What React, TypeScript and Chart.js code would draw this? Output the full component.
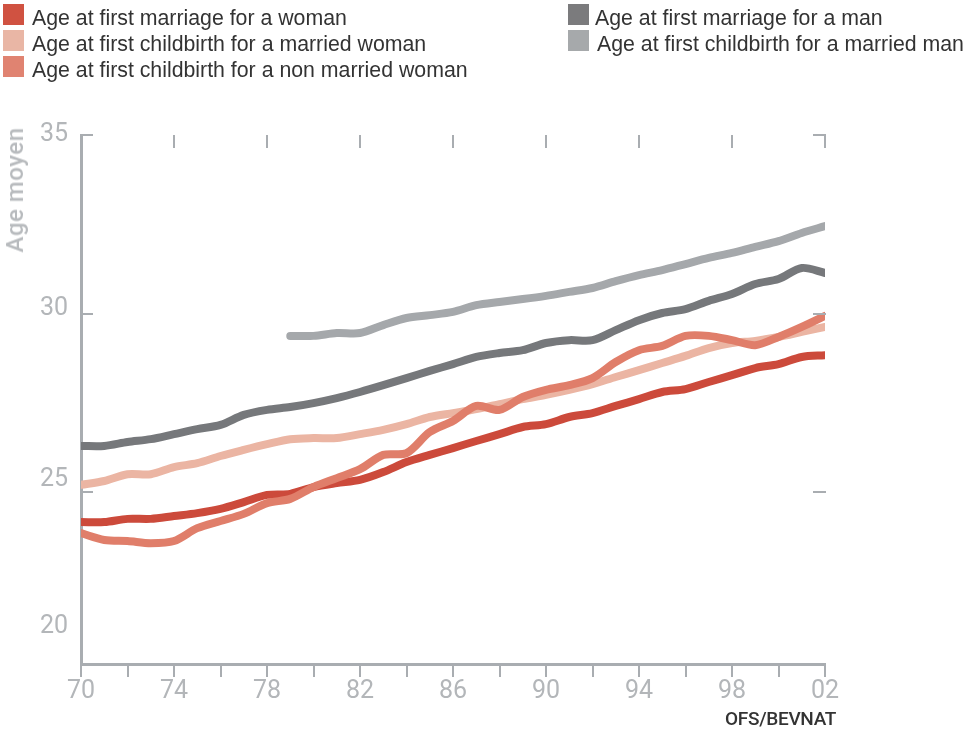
import React, { useEffect, useRef } from 'react';
import { Chart, registerables } from 'chart.js';

Chart.register(...registerables);

// ---- data ----
const years = [
  1970, 1971, 1972, 1973, 1974, 1975, 1976, 1977, 1978, 1979, 1980,
  1981, 1982, 1983, 1984, 1985, 1986, 1987, 1988, 1989, 1990, 1991,
  1992, 1993, 1994, 1995, 1996, 1997, 1998, 1999, 2000, 2001, 2002,
];

const womanMarriage = [
  24.17, 24.17, 24.26, 24.26, 24.34, 24.42, 24.54, 24.73, 24.93, 24.96, 25.15,
  25.26, 25.35, 25.57, 25.85, 26.05, 26.24, 26.44, 26.63, 26.83, 26.91, 27.11,
  27.22, 27.42, 27.61, 27.81, 27.89, 28.09, 28.28, 28.48, 28.59, 28.79, 28.84,
];

const marriedWomanBirth = [
  25.21, 25.32, 25.51, 25.51, 25.71, 25.82, 26.02, 26.19, 26.35, 26.49, 26.52,
  26.52, 26.63, 26.75, 26.91, 27.11, 27.22, 27.33, 27.47, 27.61, 27.73, 27.87,
  28.03, 28.23, 28.42, 28.62, 28.82, 29.04, 29.18, 29.24, 29.35, 29.49, 29.63,
];

const unmarriedWomanBirth = [
  23.86, 23.67, 23.64, 23.58, 23.64, 24.0, 24.2, 24.4, 24.7, 24.82, 25.15,
  25.4, 25.65, 26.05, 26.1, 26.69, 27.0, 27.42, 27.31, 27.67, 27.87, 28.0,
  28.2, 28.65, 28.98, 29.1, 29.38, 29.38, 29.26, 29.12, 29.35, 29.63, 29.94,
];

const manMarriage = [
  26.3, 26.3, 26.41, 26.49, 26.63, 26.77, 26.89, 27.17, 27.31, 27.39, 27.5,
  27.64, 27.81, 28.0, 28.2, 28.4, 28.59, 28.79, 28.9, 28.98, 29.18, 29.26,
  29.26, 29.54, 29.82, 30.02, 30.13, 30.36, 30.55, 30.83, 30.97, 31.28, 31.14,
];

const marriedManBirth = [
  null, null, null, null, null, null, null, null, null, 29.38, 29.38,
  29.46, 29.46, 29.68, 29.88, 29.96, 30.05, 30.24, 30.33, 30.41, 30.5, 30.61,
  30.72, 30.91, 31.08, 31.22, 31.39, 31.56, 31.7, 31.87, 32.03, 32.26, 32.45,
];

const seriesLabels = [
  'Age at first marriage for a woman',
  'Age at first childbirth for a married woman',
  'Age at first childbirth for a non married woman',
  'Age at first marriage for a man',
  'Age at first childbirth for a married man',
];

const yTickLabels = ['35', '30', '25', '20'];
const yTickLabelAt = [35, 30.15, 25.35, 21.25];
const yMarkValues = [35, 30, 25];
const topMarkYears = [1974, 1978, 1982, 1986, 1990, 1994, 1998, 2002];
const sourceText = 'OFS/BEVNAT';
const yTitle = 'Age moyen';

// ---- styles ----
const colors = ['#cc4a3b', '#ebb5a3', '#e07e6a', '#76787b', '#a5a8ab'];
const legendColors = ['#d05241', '#e9b6a5', '#e08371', '#7b7b7d', '#a6a9ab'];
const axisColor = '#a9adb1';
const tickColor = '#b3b6b9';

const frameTicks = {
  id: 'frameTicks',
  afterDraw(chart: any) {
    const { ctx, chartArea: a, scales } = chart;
    const x = scales.x;
    const y = scales.y;
    ctx.save();
    ctx.strokeStyle = axisColor;
    ctx.lineWidth = 2;
    ctx.beginPath();
    for (const v of yMarkValues) {
      const py = Math.round(y.getPixelForValue(v));
      ctx.moveTo(a.left, py);
      ctx.lineTo(a.left + 12, py);
      ctx.moveTo(a.right - 12, py);
      ctx.lineTo(a.right + 1, py);
    }
    for (const yr of topMarkYears) {
      const px = Math.round(x.getPixelForValue(yr));
      ctx.moveTo(px, a.top);
      ctx.lineTo(px, a.top + 13);
    }
    ctx.stroke();
    ctx.restore();
  },
};

const mk = (arr: (number | null)[]) => years.map((yr, i) => ({ x: yr, y: arr[i] }));

export default function App() {
  const ref = useRef<HTMLCanvasElement>(null);

  useEffect(() => {
    const common = {
      pointRadius: 0,
      borderWidth: 8,
      borderCapStyle: 'round' as const,
      borderJoinStyle: 'round' as const,
      tension: 0.3,
      fill: false,
      spanGaps: false,
    };
    const chart = new Chart(ref.current as HTMLCanvasElement, {
      type: 'line',
      data: {
        datasets: [
          { ...common, label: seriesLabels[0], data: mk(womanMarriage), borderColor: colors[0], order: 2 },
          { ...common, label: seriesLabels[1], data: mk(marriedWomanBirth), borderColor: colors[1], order: 3 },
          { ...common, label: seriesLabels[2], data: mk(unmarriedWomanBirth), borderColor: colors[2], order: 1 },
          { ...common, label: seriesLabels[3], data: mk(manMarriage), borderColor: colors[3], order: 4 },
          { ...common, label: seriesLabels[4], data: mk(marriedManBirth), borderColor: colors[4], order: 5 },
        ] as any,
      },
      options: {
        responsive: false,
        animation: false,
        layout: { padding: { top: 135, right: 138, bottom: 0, left: 0 } },
        plugins: { legend: { display: false }, tooltip: { enabled: false } },
        scales: {
          x: {
            type: 'linear',
            min: 1970,
            max: 2002,
            afterFit: (s: any) => { s.height = 65; },
            afterBuildTicks: (s: any) => {
              s.ticks = years.filter((y) => y % 2 === 0).map((v) => ({ value: v }));
            },
            grid: {
              display: true,
              drawOnChartArea: false,
              drawTicks: true,
              tickLength: 13,
              color: axisColor,
              lineWidth: 2,
            },
            border: { display: true, color: axisColor, width: 3 },
            ticks: {
              autoSkip: false,
              maxRotation: 0,
              padding: 0,
              color: tickColor,
              font: { family: 'Roboto', size: 25 },
              callback: (v: any) => ((v - 1970) % 4 === 0 ? String(v % 100).padStart(2, '0') : ''),
            },
          },
          y: {
            type: 'linear',
            min: 20.2,
            max: 35,
            afterFit: (s: any) => { s.width = 81; },
            afterBuildTicks: (s: any) => {
              s.ticks = yTickLabelAt.map((v) => ({ value: v }));
            },
            grid: { display: false, drawTicks: false },
            border: { display: true, color: axisColor, width: 3 },
            ticks: {
              padding: 13,
              color: tickColor,
              font: { family: 'Roboto', size: 25 },
              callback: (_v: any, i: number) => yTickLabels[i],
            },
          },
        },
      } as any,
      plugins: [frameTicks],
    });
    return () => chart.destroy();
  }, []);

  const legendFont = "'Liberation Sans', Arial, sans-serif";
  const leftItems = [0, 1, 2];
  const rightItems = [3, 4];

  return (
    <div style={{ position: 'fixed', left: 0, top: 0, width: 963, height: 729, background: '#fff', overflow: 'hidden' }}>
      <canvas ref={ref} width={963} height={729} style={{ position: 'absolute', left: 0, top: 0, width: 963, height: 729 }} />
      {leftItems.map((idx, r) => (
        <React.Fragment key={idx}>
          <div style={{ position: 'absolute', left: 3, top: 4 + r * 26, width: 21, height: 21, background: legendColors[idx] }} />
          <div style={{ position: 'absolute', left: 32, top: 6 + r * 26, font: `21.3px ${legendFont}`, lineHeight: '24px', color: '#333', whiteSpace: 'nowrap' }}>
            {seriesLabels[idx]}
          </div>
        </React.Fragment>
      ))}
      {rightItems.map((idx, r) => (
        <React.Fragment key={idx}>
          <div style={{ position: 'absolute', left: 568, top: 4 + r * 26, width: 21, height: 21, background: legendColors[idx] }} />
          <div style={{ position: 'absolute', left: 595 + r * 2, top: 6 + r * 26, font: `21.3px ${legendFont}`, lineHeight: '24px', color: '#333', whiteSpace: 'nowrap' }}>
            {seriesLabels[idx]}
          </div>
        </React.Fragment>
      ))}
      <div
        style={{
          position: 'absolute', left: 15, top: 190, transform: 'translate(-50%, -50%) rotate(-90deg)',
          font: "500 24px Roboto, sans-serif", lineHeight: '24px', color: '#b8bbbe', whiteSpace: 'nowrap', letterSpacing: '0.5px',
        }}
      >
        {yTitle}
      </div>
      <div
        style={{
          position: 'absolute', left: 725, top: 709, font: "500 19px Roboto, sans-serif", lineHeight: '19px',
          color: '#333', letterSpacing: '-0.3px', whiteSpace: 'nowrap',
        }}
      >
        {sourceText}
      </div>
    </div>
  );
}
